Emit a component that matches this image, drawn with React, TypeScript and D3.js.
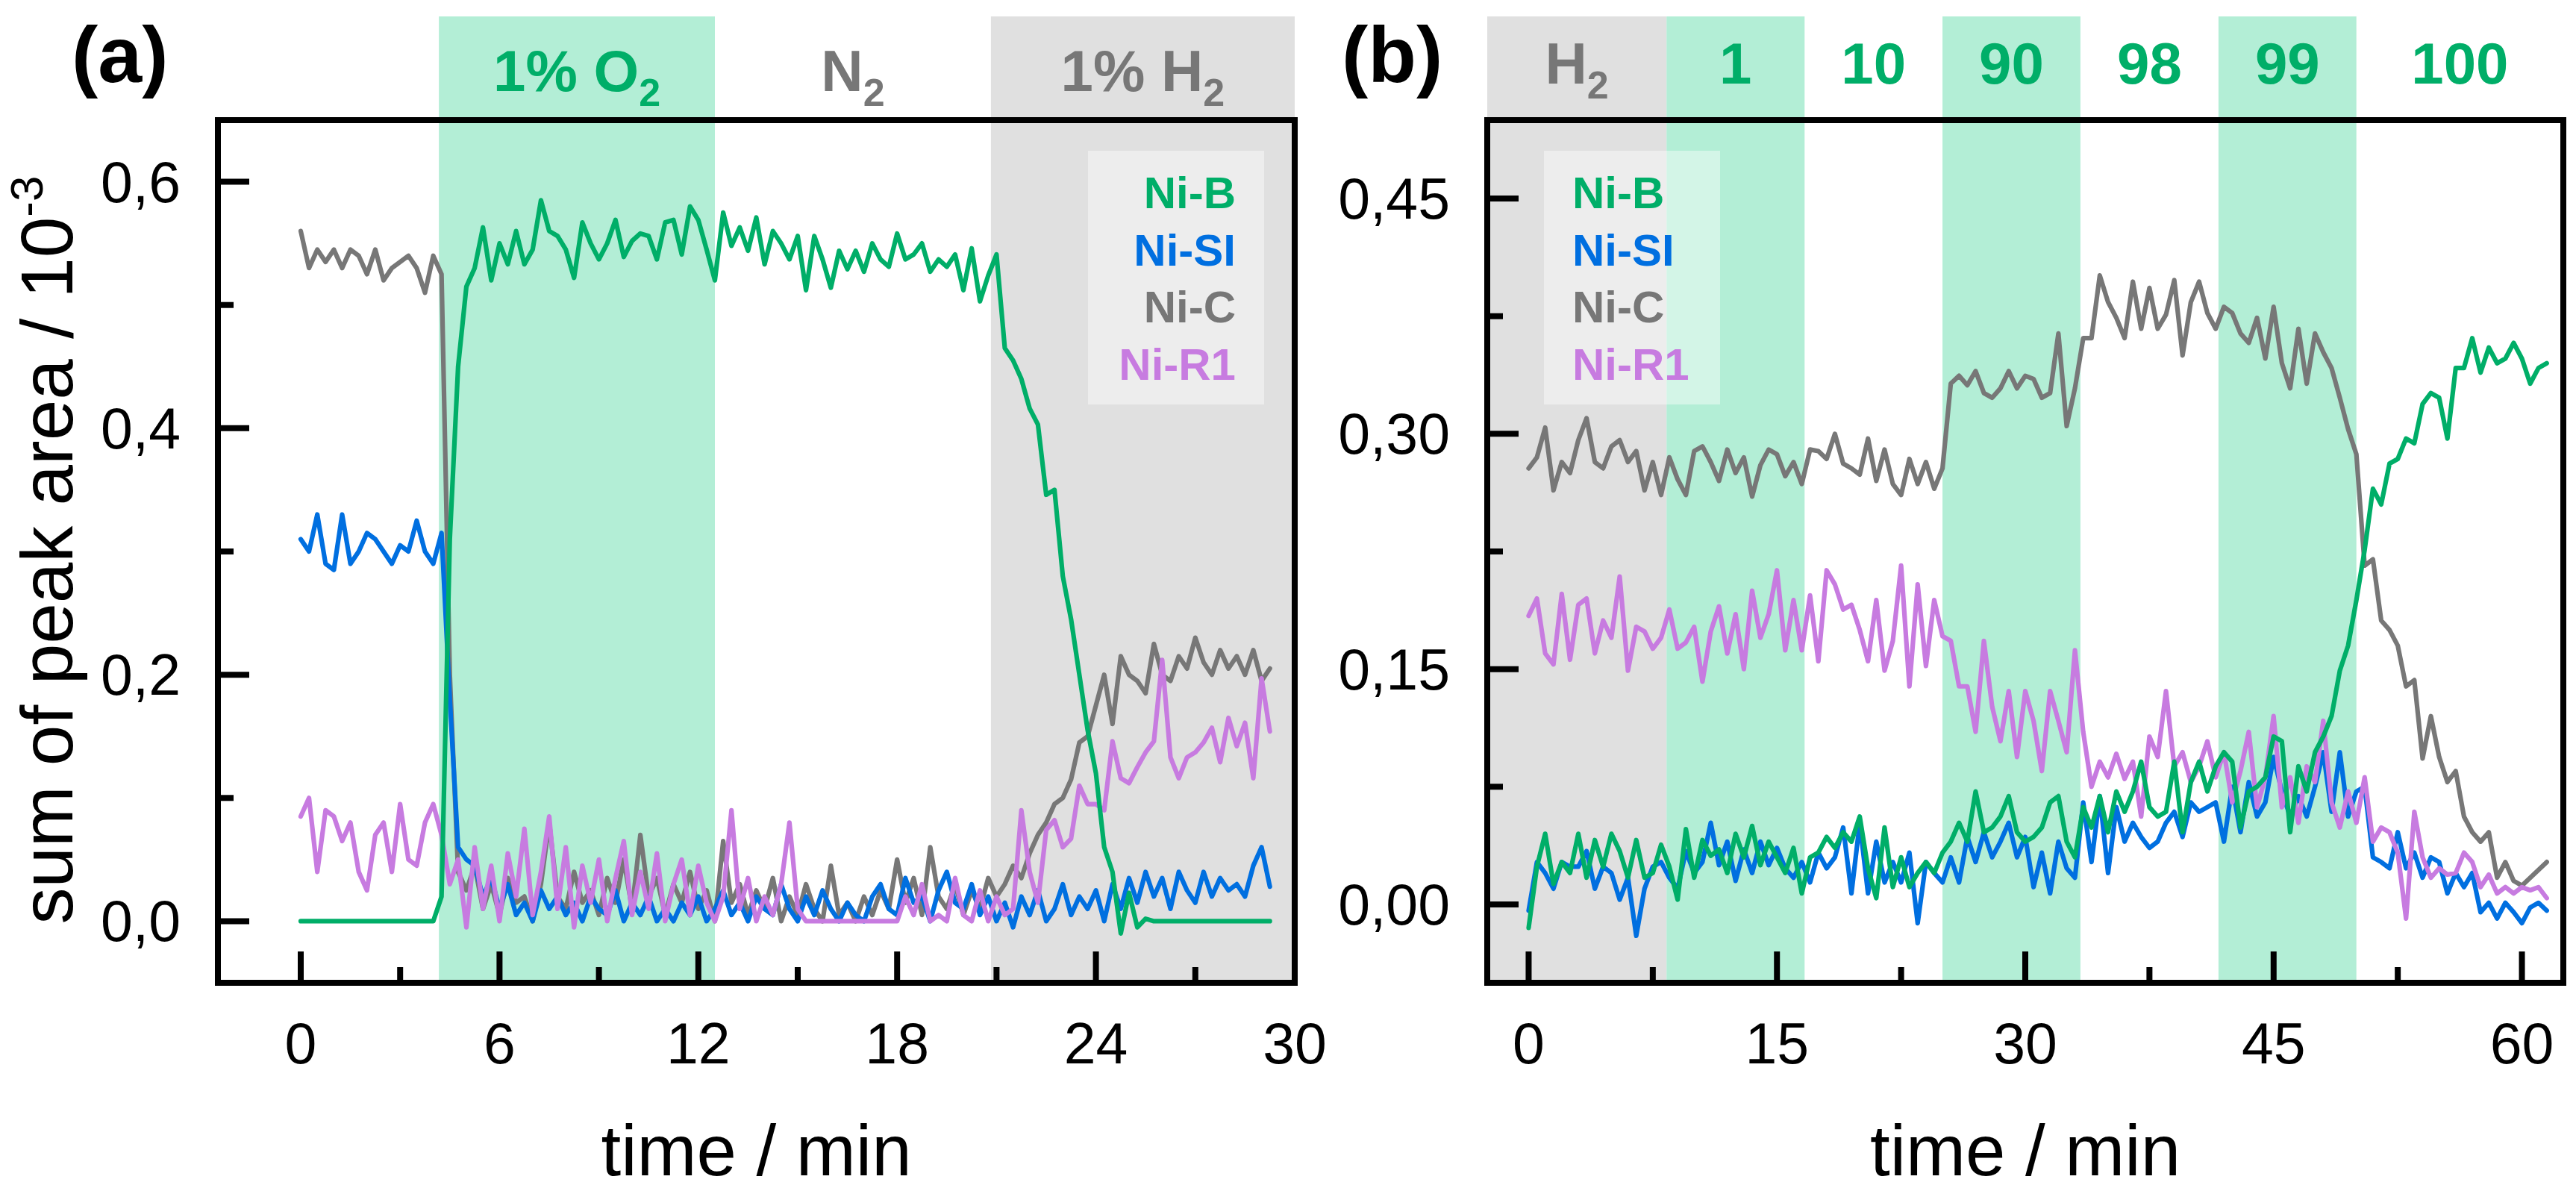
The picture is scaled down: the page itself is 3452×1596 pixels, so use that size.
import React from 'react';
import * as d3 from 'd3';

// values are in units of 10^-6 (shown on the axis as 10^-3 with one decimal of 10^-3)
// panel (a): one sample every 0.25 min starting at t = 0
const aStep = 0.25;
const aNiB = [
  0, 0, 0, 0, 0, 0, 0, 0, 0, 0,
  0, 0, 0, 0, 0, 0, 0, 20, 310, 450,
  515, 530, 563, 520, 550, 533, 560, 533, 545, 585,
  560, 556, 545, 522, 567, 550, 537, 550, 569, 539,
  552, 558, 556, 537, 567, 569, 541, 580, 569, 545,
  520, 575, 548, 563, 544, 571, 533, 560, 550, 537,
  556, 512, 556, 537, 514, 544, 529, 544, 527, 550,
  537, 531, 558, 537, 541, 550, 527, 537, 531, 541,
  512, 546, 503, 524, 541, 465, 455, 440, 416, 403,
  346, 350, 280, 245, 200, 155, 120, 60, 40, -10,
  23, -5, 2, 0, 0, 0, 0, 0, 0, 0,
  0, 0, 0, 0, 0, 0, 0, 0,
];
const aNiSI = [
  310, 300, 330, 290, 285, 330, 290, 300, 315, 310,
  300, 290, 305, 300, 325, 300, 290, 315, 180, 60,
  50, 45, 20, 35, 10, 30, 5, 15, 0, 25,
  10, 20, 5, 15, 0, 20, 10, 5, 25, 0,
  15, 5, 20, 0, 10, 0, 15, 5, 20, 0,
  10, 25, 5, 15, 0, 20, 10, 5, 30, 10,
  0, 20, 5, 25, 10, 0, 15, 5, 0, 20,
  30, 10, 5, 35, 15, 20, 0, 25, 40, 15,
  10, 30, 5, 20, 0, 15, -5, 20, 5, 25,
  0, 10, 30, 5, 20, 10, 25, 0, 30, 10,
  35, 15, 40, 20, 35, 10, 40, 25, 15, 40,
  20, 35, 25, 30, 20, 45, 60, 28,
];
const aNiC = [
  560, 530, 545, 535, 545, 530, 545, 540, 525, 545,
  520, 530, 535, 540, 530, 510, 540, 525, 200, 40,
  25, 45, 10, 30, 5, 35, 15, 20, 0, 30,
  80, 20, 10, 40, 15, 25, 5, 35, 15, 50,
  10, 70, 20, 35, 5, 30, 15, 40, 10, 25,
  0, 65, 15, 30, 5, 25, 10, 35, 0, 20,
  5, 30, 10, 0, 45, 5, 15, 0, 20, 5,
  25, 10, 50, 15, 35, 5, 60, 20, 10, 30,
  5, 25, 10, 35, 20, 30, 45, 35, 55, 70,
  80, 95, 100, 115, 145, 150, 175, 200, 160, 215,
  200, 195, 185, 225, 200, 195, 215, 205, 230, 210,
  200, 220, 205, 215, 200, 220, 195, 205,
];
const aNiR1 = [
  85, 100, 40, 90, 85, 65, 80, 40, 25, 70,
  80, 40, 95, 50, 45, 80, 95, 70, 30, 50,
  -5, 60, 10, 45, 0, 55, 20, 75, 5, 40,
  85, 10, 60, -5, 45, 15, 50, 0, 35, 65,
  5, 40, 10, 55, 0, 30, 50, 5, 45, 15,
  0, 20, 90, 10, 35, 0, 20, 5, 30, 80,
  10, 0, 0, 0, 0, 0, 0, 0, 0, 0,
  0, 0, 0, 20, 5, 30, 0, 5, 0, 35,
  5, 0, 25, 0, 20, 5, 10, 90, 40, 15,
  74, 82, 60, 67, 110, 95, 95, 90, 146, 116,
  112, 125, 137, 146, 212, 133, 116, 133, 137, 145,
  157, 129, 165, 142, 161, 116, 197, 154,
];

// panel (b): one sample every 0.5 min starting at t = 0
const bStep = 0.5;
const bNiB = [
  -15, 24, 45, 13, 27, 20, 45, 17, 41, 24,
  45, 34, 17, 41, 17, 20, 38, 24, 3, 48,
  17, 41, 31, 35, 20, 45, 30, 50, 25, 40,
  30, 20, 36, 7, 30, 33, 43, 36, 46, 40,
  56, 23, 4, 49, 11, 30, 11, 20, 27, 20,
  33, 40, 52, 40, 72, 46, 49, 56, 69, 46,
  40, 43, 49, 65, 69, 40, 30, 62, 49, 69,
  46, 72, 59, 72, 91, 62, 56, 59, 91, 46,
  78, 91, 72, 88, 97, 91, 49, 72, 75, 81,
  107, 104, 46, 88, 72, 97, 107, 120, 149, 165,
  194, 226, 265, 255, 281, 284, 297, 294, 319, 326,
  323, 297, 342, 342, 361, 339, 355, 345, 348, 358,
  348, 332, 342, 345,
];
const bNiSI = [
  -4, 27, 20, 10, 27, 24, 24, 34, 10, 24,
  20, 3, 17, -20, 10, 24, 27, 17, 10, 34,
  20, 27, 52, 25, 40, 15, 35, 20, 40, 25,
  36, 23, 17, 27, 14, 33, 23, 30, 49, 7,
  52, 7, 40, 14, 27, 14, 33, -12, 27, 20,
  14, 30, 14, 43, 27, 46, 30, 40, 52, 30,
  43, 11, 33, 7, 40, 23, 17, 65, 27, 69,
  20, 62, 40, 52, 43, 36, 40, 52, 59, 43,
  65, 59, 62, 65, 40, 75, 46, 78, 56, 65,
  94, 72, 56, 69, 56, 75, 97, 59, 97, 56,
  72, 75, 30, 27, 23, 46, 23, 33, 17, 30,
  27, 7, 20, 11, 20, -5, 1, -9, 1, -5,
  -12, -2, 1, -4,
];
const bNiC = [
  278, 285, 304, 264, 282, 275, 296, 310, 282, 278,
  292, 296, 282, 289, 264, 282, 261, 285, 271, 261,
  289, 292, 282, 270, 290, 275, 285, 260, 280, 290,
  287, 273, 282, 268, 290, 289, 284, 300, 281, 278,
  274, 297, 270, 290, 268, 261, 284, 268, 282, 265,
  278, 332, 337, 331, 340, 326, 323, 329, 340, 329,
  337, 335, 323, 326, 364, 305, 329, 361, 361, 401,
  384, 374, 361, 397, 367, 393, 367, 376, 398, 350,
  384, 397, 377, 367, 381, 377, 364, 358, 374, 348,
  381, 345, 329, 367, 332, 364, 352, 342, 323, 303,
  287, 216, 220, 181, 175, 165, 139, 143, 93, 120,
  94, 78, 85, 56, 46, 40, 46, 17, 27, 15,
  12, 17, 22, 27,
];
const bNiR1 = [
  184, 195, 160, 153, 198, 156, 191, 195, 160, 181,
  170, 209, 149, 177, 174, 163, 170, 188, 163, 167,
  177, 142, 174, 190, 160, 185, 150, 200, 170, 185,
  213, 162, 194, 162, 197, 155, 213, 204, 188, 191,
  175, 155, 194, 149, 168, 216, 139, 204, 152, 194,
  171, 168, 139, 139, 110, 168, 126, 104, 136, 94,
  136, 117, 85, 136, 117, 97, 162, 110, 75, 91,
  81, 96, 80, 91, 56, 107, 94, 136, 88, 97,
  78, 88, 104, 81, 97, 65, 85, 110, 62, 81,
  120, 62, 81, 52, 88, 78, 117, 65, 49, 72,
  52, 81, 40, 49, 46, 33, -9, 59, 30, 17,
  23, 19, 20, 33, 27, 11, 19, 7, 11, 7,
  11, 9, 11, 4,
];

const seriesNames = ['Ni-B', 'Ni-SI', 'Ni-C', 'Ni-R1'];

// gas phases: label, subscript, start / end time (min), band fill
const aPhaseLabels = ['1% O', 'N', '1% H'];
const aPhaseSubs = ['2', '2', '2'];
const aPhaseEdges = [4.17, 12.5, 20.83, 30];
const aPhaseFill = ['green', 'none', 'gray'];
const aPhaseText = ['green', 'gray', 'gray'];

const bPhaseLabels = ['H', '1', '10', '90', '98', '99', '100'];
const bPhaseSubs = ['2', '', '', '', '', '', ''];
const bPhaseEdges = [-2.5, 8.33, 16.67, 25, 33.33, 41.67, 50, 62.5];
const bPhaseFill = ['gray', 'green', 'none', 'green', 'none', 'green', 'none'];
const bPhaseText = ['gray', 'green', 'green', 'green', 'green', 'green', 'green'];

const aXTicks = [0, 6, 12, 18, 24, 30];
const aXMinor = [3, 9, 15, 21, 27];
const aYTicks = [0, 0.2, 0.4, 0.6];
const aYMinor = [0.1, 0.3, 0.5];
const bXTicks = [0, 15, 30, 45, 60];
const bXMinor = [7.5, 22.5, 37.5, 52.5];
const bYTicks = [0, 0.15, 0.3, 0.45];
const bYMinor = [0.075, 0.225, 0.375];

const FONT = "'Liberation Sans', Arial, Helvetica, sans-serif";
const COLORS: Record<string, string> = {
  'Ni-B': '#00ae68',
  'Ni-SI': '#006fe0',
  'Ni-C': '#777777',
  'Ni-R1': '#c77be0',
};
const BAND: Record<string, string> = { green: '#b3eed6', gray: '#e0e0e0', none: 'none' };
const TEXT: Record<string, string> = { green: '#00ae68', gray: '#777777' };

const TOP = 161;
const BOTTOM = 1317;
const BAND_TOP = 22;

interface PanelProps {
  tag: string;
  tagX: number;
  left: number;
  right: number;
  xDomain: [number, number];
  yDomain: [number, number];
  step: number;
  series: number[][];
  xTicks: number[];
  xMinor: number[];
  yTicks: number[];
  yMinor: number[];
  yDecimals: number;
  labels: string[];
  subs: string[];
  edges: number[];
  fills: string[];
  texts: string[];
  labelY: number;
  legendX: number;
  legendAlign: 'start' | 'end';
  legendTextX: number;
}

function Panel(p: PanelProps) {
  const x = d3.scaleLinear().domain(p.xDomain).range([p.left, p.right]);
  const y = d3.scaleLinear().domain(p.yDomain).range([BOTTOM, TOP]);
  const line = d3
    .line<number>()
    .x((_, i) => x(i * p.step))
    .y(v => y(v / 1000));
  const fmt = (v: number) => d3.format(`.${p.yDecimals}f`)(v).replace('.', ',');
  const drawOrder = [2, 1, 3, 0]; // Ni-C, Ni-SI, Ni-R1, Ni-B (B on top)

  return (
    <g>
      {/* gas phase bands */}
      {p.labels.map((_, i) =>
        p.fills[i] === 'none' ? null : (
          <rect
            key={`band${i}`}
            x={x(p.edges[i])}
            y={BAND_TOP}
            width={x(p.edges[i + 1]) - x(p.edges[i])}
            height={BOTTOM - BAND_TOP}
            fill={BAND[p.fills[i]]}
          />
        )
      )}
      {p.labels.map((lab, i) => (
        <text
          key={`lab${i}`}
          x={x((p.edges[i] + p.edges[i + 1]) / 2)}
          y={p.labelY}
          textAnchor="middle"
          fontSize={78}
          fontWeight="bold"
          fill={TEXT[p.texts[i]]}
        >
          {lab}
          {p.subs[i] && (
            <tspan fontSize={52} dy={20}>
              {p.subs[i]}
            </tspan>
          )}
        </text>
      ))}

      {/* legend box */}
      <rect x={p.legendX} y={202} width={236} height={340} fill="#ffffff" fillOpacity={0.42} />
      {seriesNames.map((name, i) => (
        <text
          key={name}
          x={p.legendTextX}
          y={279 + i * 76.7}
          textAnchor={p.legendAlign}
          fontSize={60}
          fontWeight="bold"
          fill={COLORS[name]}
        >
          {name}
        </text>
      ))}

      {/* data */}
      {drawOrder.map(k => (
        <path
          key={seriesNames[k]}
          d={line(p.series[k]) ?? ''}
          fill="none"
          stroke={COLORS[seriesNames[k]]}
          strokeWidth={6.2}
          strokeLinejoin="round"
          strokeLinecap="round"
        />
      ))}

      {/* ticks (inward) */}
      {p.xTicks.map(t => (
        <line key={`xt${t}`} x1={x(t)} x2={x(t)} y1={BOTTOM} y2={BOTTOM - 42} stroke="#000" strokeWidth={8} />
      ))}
      {p.xMinor.map(t => (
        <line key={`xm${t}`} x1={x(t)} x2={x(t)} y1={BOTTOM} y2={BOTTOM - 21} stroke="#000" strokeWidth={8} />
      ))}
      {p.yTicks.map(t => (
        <line key={`yt${t}`} x1={p.left} x2={p.left + 42} y1={y(t)} y2={y(t)} stroke="#000" strokeWidth={8} />
      ))}
      {p.yMinor.map(t => (
        <line key={`ym${t}`} x1={p.left} x2={p.left + 21} y1={y(t)} y2={y(t)} stroke="#000" strokeWidth={8} />
      ))}

      {/* frame */}
      <rect
        x={p.left}
        y={TOP}
        width={p.right - p.left}
        height={BOTTOM - TOP}
        fill="none"
        stroke="#000"
        strokeWidth={8}
        strokeLinejoin="miter"
      />

      {/* tick labels */}
      {p.xTicks.map(t => (
        <text key={`xl${t}`} x={x(t)} y={1425} textAnchor="middle" fontSize={77}>
          {t}
        </text>
      ))}
      {p.yTicks.map(t => (
        <text key={`yl${t}`} x={p.left - 50} y={y(t) + 27} textAnchor="end" fontSize={77}>
          {fmt(t)}
        </text>
      ))}

      {/* axis title + panel tag */}
      <text x={(p.left + p.right) / 2} y={1575} textAnchor="middle" fontSize={96}>
        time / min
      </text>
      <text x={p.tagX} y={110} fontSize={106} fontWeight="bold">
        {p.tag}
      </text>
    </g>
  );
}

export default function App() {
  return (
    <svg
      width={3452}
      height={1596}
      viewBox="0 0 3452 1596"
      style={{ position: 'absolute', left: 0, top: 0, background: '#fff' }}
      fontFamily={FONT}
    >
      <rect width={3452} height={1596} fill="#fff" />
      <Panel
        tag="(a)"
        tagX={96}
        left={292}
        right={1735}
        xDomain={[-2.5, 30]}
        yDomain={[-0.05, 0.65]}
        step={aStep}
        series={[aNiB, aNiSI, aNiC, aNiR1]}
        xTicks={aXTicks}
        xMinor={aXMinor}
        yTicks={aYTicks}
        yMinor={aYMinor}
        yDecimals={1}
        labels={aPhaseLabels}
        subs={aPhaseSubs}
        edges={aPhaseEdges}
        fills={aPhaseFill}
        texts={aPhaseText}
        labelY={122}
        legendX={1458}
        legendAlign="end"
        legendTextX={1656}
      />
      <Panel
        tag="(b)"
        tagX={1798}
        left={1993}
        right={3435}
        xDomain={[-2.5, 62.5]}
        yDomain={[-0.05, 0.5]}
        step={bStep}
        series={[bNiB, bNiSI, bNiC, bNiR1]}
        xTicks={bXTicks}
        xMinor={bXMinor}
        yTicks={bYTicks}
        yMinor={bYMinor}
        yDecimals={2}
        labels={bPhaseLabels}
        subs={bPhaseSubs}
        edges={bPhaseEdges}
        fills={bPhaseFill}
        texts={bPhaseText}
        labelY={112}
        legendX={2069}
        legendAlign="start"
        legendTextX={2107}
      />
      <text transform="translate(97,737) rotate(-90)" textAnchor="middle" fontSize={98}>
        sum of peak area / 10
        <tspan fontSize={62} dy={-40}>
          -3
        </tspan>
      </text>
    </svg>
  );
}
